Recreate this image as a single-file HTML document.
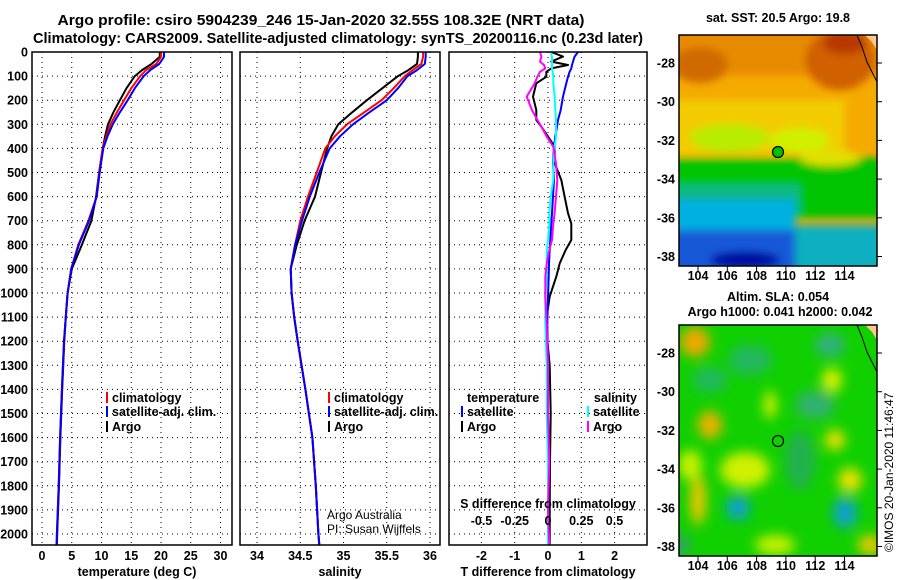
<!DOCTYPE html>
<html><head><meta charset="utf-8"><style>
body{margin:0;background:#fff;width:900px;height:580px;overflow:hidden}
svg{display:block;font-family:"Liberation Sans",Arial,sans-serif}
.b{font-weight:bold;font-size:12.5px}
.t{font-weight:bold;font-size:15px}
</style></head><body>
<svg id="s" width="900" height="580" xmlns="http://www.w3.org/2000/svg">
<defs>
<filter id="bl" x="-20%" y="-20%" width="140%" height="140%"><feGaussianBlur stdDeviation="4"/></filter>
<filter id="bl2" x="-20%" y="-20%" width="140%" height="140%"><feGaussianBlur stdDeviation="6"/></filter>
<clipPath id="c1"><rect x="679" y="35" width="198" height="231"/></clipPath>
<clipPath id="c2"><rect x="679" y="325" width="198" height="231"/></clipPath>
</defs>
<text class="t" x="321" y="25" text-anchor="middle" textLength="527" lengthAdjust="spacingAndGlyphs">Argo profile: csiro 5904239_246 15-Jan-2020 32.55S 108.32E (NRT data)</text>
<text class="t" x="338" y="43" text-anchor="middle" textLength="610" lengthAdjust="spacingAndGlyphs">Climatology: CARS2009. Satellite-adjusted climatology: synTS_20200116.nc (0.23d later)</text>

<!-- top map SST -->
<g clip-path="url(#c1)">
<rect x="679" y="35" width="198" height="231" fill="#f5aa00"/>
<g filter="url(#bl)">
<rect x="670" y="25" width="220" height="50" fill="#e88a00"/>
<ellipse cx="700" cy="65" rx="28" ry="18" fill="#d06a00"/>
<ellipse cx="840" cy="60" rx="35" ry="30" fill="#d06000"/>
<ellipse cx="845" cy="42" rx="22" ry="12" fill="#b83800"/>
<rect x="670" y="100" width="175" height="55" fill="#f2cc00"/>
<ellipse cx="730" cy="138" rx="40" ry="14" fill="#b8ec00"/>
<ellipse cx="800" cy="140" rx="30" ry="12" fill="#d0f000"/>
<rect x="670" y="158" width="220" height="60" fill="#00c400"/>
<ellipse cx="830" cy="158" rx="30" ry="8" fill="#e0e000"/>
<rect x="670" y="185" width="130" height="30" fill="#10b888"/>
<rect x="670" y="200" width="125" height="35" fill="#00b0e0"/>
<rect x="790" y="225" width="100" height="50" fill="#10b0c0"/>
<rect x="670" y="230" width="125" height="45" fill="#1458d8"/>
<ellipse cx="745" cy="260" rx="35" ry="9" fill="#0010a0"/>
</g>
<polygon points="865,35 877,35 877,50 872,42" fill="#ffc890"/>
<polyline points="857,35 862,47 867,62 872,72 877,82" fill="none" stroke="#000" stroke-width="1"/>
</g>
<rect x="679" y="35" width="198" height="231" fill="none" stroke="#000" stroke-width="1.5"/>
<circle cx="778" cy="152" r="5.5" fill="#00c000" stroke="#000" stroke-width="1.2"/>

<!-- bottom map SLA -->
<g clip-path="url(#c2)">
<rect x="679" y="325" width="198" height="231" fill="#10d000"/>
<g filter="url(#bl2)">
<ellipse cx="695" cy="342" rx="15" ry="15" fill="#f0a800"/>
<ellipse cx="710" cy="380" rx="18" ry="12" fill="#20b860"/>
<ellipse cx="750" cy="360" rx="22" ry="15" fill="#20b860"/>
<ellipse cx="830" cy="345" rx="15" ry="12" fill="#30b080"/>
<ellipse cx="815" cy="405" rx="20" ry="14" fill="#30b070"/>
<ellipse cx="832" cy="380" rx="10" ry="12" fill="#e0f000"/>
<ellipse cx="710" cy="425" rx="12" ry="14" fill="#f0b000"/>
<ellipse cx="770" cy="405" rx="6" ry="14" fill="#e0f000"/>
<ellipse cx="745" cy="470" rx="25" ry="18" fill="#d0f000"/>
<ellipse cx="835" cy="440" rx="10" ry="10" fill="#f0e000"/>
<ellipse cx="850" cy="480" rx="12" ry="12" fill="#f0e000"/>
<ellipse cx="698" cy="500" rx="8" ry="25" fill="#f0c800"/>
<ellipse cx="738" cy="508" rx="12" ry="12" fill="#10a0d0"/>
<ellipse cx="845" cy="513" rx="12" ry="15" fill="#10a0d0"/>
<ellipse cx="800" cy="460" rx="15" ry="30" fill="#20b050"/>
<ellipse cx="870" cy="545" rx="12" ry="10" fill="#f0c800"/>
<ellipse cx="680" cy="545" rx="10" ry="10" fill="#30a070"/>
<ellipse cx="775" cy="545" rx="20" ry="10" fill="#c8f000"/>
<ellipse cx="690" cy="465" rx="12" ry="15" fill="#c8f000"/>
</g>
<polygon points="865,325 877,325 877,340 872,332" fill="#ffc890"/>
<polyline points="857,325 862,337 867,352 872,362 877,372" fill="none" stroke="#000" stroke-width="1"/>
</g>
<rect x="679" y="325" width="198" height="231" fill="none" stroke="#000" stroke-width="1.5"/>
<circle cx="778" cy="441" r="5.5" fill="none" stroke="#000" stroke-width="1.2"/>

<text class="b" x="778" y="22" text-anchor="middle">sat. SST: 20.5 Argo: 19.8</text>
<text class="b" x="778" y="301" text-anchor="middle">Altim. SLA: 0.054</text>
<text class="b" x="780" y="316" text-anchor="middle">Argo h1000: 0.041 h2000: 0.042</text>
<text x="893" y="552" font-size="12" transform="rotate(-90 893 552)">©IMOS 20-Jan-2020 11:46:47</text>
<g id="g"></g>
</svg>
<script>
// profile data (depth in m)
const depths=[0,20,50,75,100,150,200,250,300,350,400,500,600,700,800,900,1000,1100,1200,1400,1600,1800,2000,2045];
const tArgo=[19.8,19.8,18.4,16.8,15.6,14.2,13.1,12.0,11.1,10.6,10.2,9.6,9.1,8.3,6.7,5.0,4.3,4.0,3.75,3.4,3.1,2.85,2.55,2.5];
const tClim=[20.0,20.0,19.2,17.5,16.5,15.0,13.8,12.6,11.5,10.8,10.2,9.6,9.2,7.8,6.1,4.9,4.3,4.0,3.7,3.35,3.05,2.8,2.5,2.45];
const tSat=[20.5,20.5,19.7,18.2,17.1,15.6,14.4,13.1,11.9,11.0,10.3,9.7,9.2,7.9,6.2,4.9,4.3,4.0,3.7,3.35,3.05,2.8,2.5,2.45];
const sArgo=[35.86,35.86,35.85,35.75,35.63,35.45,35.27,35.10,34.94,34.86,34.81,34.74,34.67,34.55,34.46,34.39,34.40,34.43,34.47,34.56,34.64,34.68,34.71,34.72];
const sClim=[35.92,35.92,35.90,35.80,35.71,35.58,35.44,35.24,35.04,34.90,34.79,34.69,34.59,34.50,34.44,34.39,34.40,34.43,34.47,34.56,34.64,34.68,34.71,34.72];
const sSat=[35.95,35.95,35.94,35.85,35.74,35.63,35.50,35.30,35.11,34.96,34.84,34.72,34.61,34.52,34.44,34.39,34.40,34.43,34.47,34.56,34.64,34.68,34.71,34.72];
const depthDiff=[0,19,40,54,68,82,103,130,185,241,282,310,351,393,462,531,600,669,711,780,822,877,932,1015,1126,1300,1500,1700,1900,2045];
const dTArgo=[0.1,0.45,0.1,0.6,0.1,-0.05,-0.05,-0.35,-0.45,-0.35,-0.35,-0.2,0,0.2,0.2,0.4,0.5,0.6,0.7,0.7,0.53,0.35,0.25,0.05,-0.07,0.05,0.08,0.06,0.05,0.05];
const dTSat=[0.9,0.8,0.75,0.72,0.7,0.65,0.6,0.55,0.45,0.38,0.3,0.27,0.22,0.18,0.15,0.18,0.15,0.12,0.1,0.07,0.05,0.03,0.02,0,-0.02,0,0,0,0,0];
const dSArgo=[-0.06,-0.05,-0.06,-0.03,-0.02,-0.06,-0.08,-0.1,-0.16,-0.12,-0.08,-0.05,-0.01,0.04,0.06,0.07,0.06,0.05,0.04,0.03,0.01,-0.01,-0.02,-0.02,-0.01,0,0,0.01,0,0.01];
const dSSat=[0.02,0.03,0.03,0.03,0.03,0.035,0.04,0.04,0.05,0.055,0.06,0.06,0.06,0.05,0.04,0.04,0.02,0.01,0.01,0,-0.01,-0.01,-0.01,-0.02,-0.02,-0.01,-0.01,0,0,0];
const depthTicks=[0,100,200,300,400,500,600,700,800,900,1000,1100,1200,1300,1400,1500,1600,1700,1800,1900,2000];
const tTicks=[0,5,10,15,20,25,30];
const sTicks=[34,34.5,35,35.5,36];
const sTickLabels=['34','34.5','35','35.5','36'];
const dTTicks=[-2,-1,0,1,2];
const dSTicks=[-0.5,-0.25,0,0.25,0.5];
const dSTickLabels=['-0.5','-0.25','0','0.25','0.5'];
const latTicks=[-28,-30,-32,-34,-36,-38];
const lonTicks=[104,106,108,110,112,114];

const NS='http://www.w3.org/2000/svg';
const G=document.getElementById('g');
function mk(tag,at,parent){const e=document.createElementNS(NS,tag);for(const k in at)e.setAttribute(k,at[k]);(parent||G).appendChild(e);return e;}
const yD=d=>52+d*0.241;
const xT=t=>42+t*5.95;
const xS=s=>257+(s-34)*86.5;
const xdT=v=>548+v*33.3;
const xdS=v=>548+v*133;
const Y0=52,Y1=545;
const panels=[[32,232],[240,440],[449,647]];

function grid(x0,x1,xs){
  for(const d of depthTicks){const l=mk('line',{x1:x0,x2:x1,y1:yD(d),y2:yD(d),stroke:'#000','stroke-width':1,'stroke-dasharray':'1,4'});
  
  }
  for(const x of xs){const l=mk('line',{x1:x,x2:x,y1:Y0,y2:Y1,stroke:'#000','stroke-width':1,'stroke-dasharray':'1,4'});
  
  }
}
grid(32,232,tTicks.map(xT));
grid(240,440,sTicks.map(xS));
grid(449,647,dTTicks.map(xdT));

function line(xs,ds,fx,col,name,w){
  const p=xs.map((v,i)=>fx(v).toFixed(1)+','+yD(ds[i]).toFixed(1)).join(' ');
  const e=mk('polyline',{points:p,fill:'none',stroke:col,'stroke-width':w||2,'stroke-linejoin':'round'});
  
  
}
line(tArgo,depths,xT,'#000','temperature-argo-line');
line(tClim,depths,xT,'#f00','temperature-climatology-line');
line(tSat,depths,xT,'#00f','temperature-satellite-line');
line(sArgo,depths,xS,'#000','salinity-argo-line');
line(sClim,depths,xS,'#f00','salinity-climatology-line');
line(sSat,depths,xS,'#00f','salinity-satellite-line');
line(dTArgo,depthDiff,xdT,'#000','temperature-diff-argo-line');
line(dTSat,depthDiff,xdT,'#00f','temperature-diff-satellite-line');
line(dSSat,depthDiff,xdS,'#0ff','salinity-diff-satellite-line');
line(dSArgo,depthDiff,xdS,'#f0f','salinity-diff-argo-line');

panels.forEach((p,i)=>{const r=mk('rect',{x:p[0],y:Y0,width:p[1]-p[0],height:Y1-Y0,fill:'none',stroke:'#000','stroke-width':1.5});

});

function txt(x,y,s,anchor,name,cls,extra){const e=mk('text',Object.assign({x:x,y:y,'text-anchor':anchor||'start'},extra||{}));
 if(cls!==null)e.setAttribute('class',cls||'b');e.textContent=s;
 
 return e;}

depthTicks.forEach(d=>txt(28,yD(d)+4.5,String(d),'end','depth-tick-label'));
tTicks.forEach(t=>txt(xT(t),560,String(t),'middle','temperature-tick-label'));
sTicks.forEach((s,i)=>txt(xS(s),560,sTickLabels[i],'middle','salinity-tick-label'));
dTTicks.forEach(t=>txt(xdT(t),560,String(t),'middle','t-diff-tick-label'));
dSTicks.forEach((t,i)=>txt(xdS(t),525,dSTickLabels[i],'middle','s-diff-tick-label'));
txt(137,576,'temperature (deg C)','middle','temperature-axis-title');
txt(340,576,'salinity','middle','salinity-axis-title');
txt(548,576,'T difference from climatology','middle','t-diff-axis-title');
txt(548,508,'S difference from climatology','middle','s-diff-axis-title');
txt(327,519,'Argo Australia','start','credit-argo-australia',null,{'font-size':12});
txt(327,533,'PI: Susan Wijffels','start','credit-pi',null,{'font-size':12});

function leg(x,y,col,label){const m=mk('line',{x1:x,x2:x,y1:y-10,y2:y+1,stroke:col,'stroke-width':2});
 
 
 txt(x+5,y,label,'start','legend-entry');}
leg(107,402,'#f00','climatology');leg(107,416,'#00f','satellite-adj. clim.');leg(107,431,'#000','Argo');
leg(329,402,'#f00','climatology');leg(329,416,'#00f','satellite-adj. clim.');leg(329,431,'#000','Argo');
txt(467,402,'temperature','start','legend-header-temperature');
leg(462,416,'#00f','satellite');leg(462,431,'#000','Argo');
txt(637,402,'salinity','end','legend-header-salinity');
leg(588,416,'#0ff','satellite');leg(588,431,'#f0f','Argo');

function mapAxes(top){
  latTicks.forEach((la,i)=>{const y=top+28+i*38.7;
    const t=mk('line',{x1:877,x2:882,y1:y,y2:y,stroke:'#000'});
    
    
    txt(675,y+4.5,String(la),'end','lat-tick-label');});
  lonTicks.forEach((lo,i)=>{const x=698+i*29.3;
    const t=mk('line',{x1:x,x2:x,y1:top+231,y2:top+236,stroke:'#000'});
    
    
    txt(x,top+245,String(lo),'middle','lon-tick-label');});
}
mapAxes(35);mapAxes(325);
</script>
</body></html>
